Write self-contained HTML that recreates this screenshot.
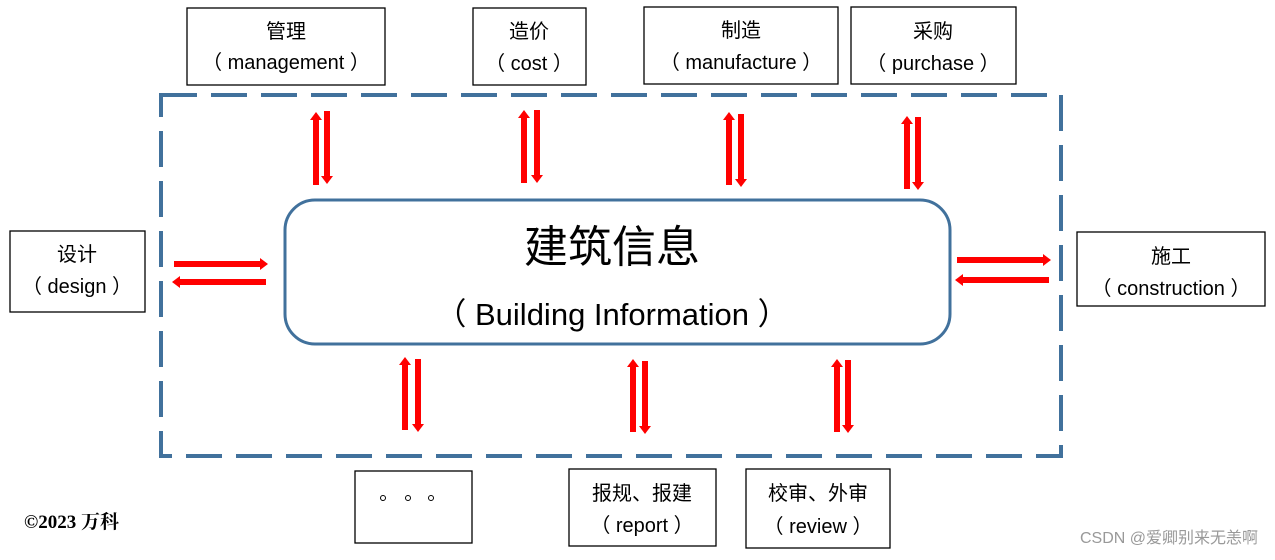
<!DOCTYPE html>
<html><head><meta charset="utf-8"><style>
body{margin:0;background:#fff}
svg text{font-family:"Liberation Sans","Noto Sans CJK SC",sans-serif;fill:#000}
</style></head><body>
<svg width="1275" height="555" viewBox="0 0 1275 555" xmlns="http://www.w3.org/2000/svg">
<defs>
<g id="up"><polygon points="-3,8 -3,73 3,73 3,8 6,8 0,0 -6,8" fill="#f00"/></g>
<g id="dn"><polygon points="-3,0 3,0 3,65 6,65 0,73 -6,65 -3,65" fill="#f00"/></g>
<g id="rt"><polygon points="0,-3 86,-3 86,-6 94,0 86,6 86,3 0,3" fill="#f00"/></g>
<g id="lt"><polygon points="94,-3 8,-3 8,-6 0,0 8,6 8,3 94,3" fill="#f00"/></g>
</defs>
<rect x="161" y="95" width="900" height="361" fill="none" stroke="#41719c" stroke-width="4" stroke-dasharray="36,14"/>
<rect x="285" y="200" width="665" height="144" rx="30" fill="#fff" stroke="#41719c" stroke-width="3"/>
<text x="612" y="262" font-size="44" text-anchor="middle">建筑信息</text>
<text x="612" y="325" font-size="31" text-anchor="middle">（ Building Information ）</text>
<g fill="#fff" stroke="#000" stroke-width="1.3">
<rect x="187" y="8" width="198" height="77"/>
<rect x="473" y="8" width="113" height="77"/>
<rect x="644" y="7" width="194" height="77"/>
<rect x="851" y="7" width="165" height="77"/>
<rect x="10" y="231" width="135" height="81"/>
<rect x="1077" y="232" width="188" height="74"/>
<rect x="355" y="471" width="117" height="72"/>
<rect x="569" y="469" width="147" height="77"/>
<rect x="746" y="469" width="144" height="79"/>
</g>
<g font-size="20" text-anchor="middle">
<text x="286" y="38">管理</text><text x="286" y="69">（ management ）</text>
<text x="529" y="38">造价</text><text x="529" y="70">（ cost ）</text>
<text x="741" y="37">制造</text><text x="741" y="69">（ manufacture ）</text>
<text x="933" y="38">采购</text><text x="933" y="70">（ purchase ）</text>
<text x="77" y="261">设计</text><text x="77" y="293">（ design ）</text>
<text x="1171" y="263">施工</text><text x="1171" y="295">（ construction ）</text>
<text x="642" y="500">报规、报建</text><text x="642" y="532">（ report ）</text>
<text x="818" y="500">校审、外审</text><text x="818" y="533">（ review ）</text>
</g>
<g fill="none" stroke="#000" stroke-width="1"><circle cx="383" cy="498" r="2.5"/><circle cx="408" cy="498" r="2.5"/><circle cx="431" cy="498" r="2.5"/></g>
<text x="24" y="528" font-size="19" font-weight="bold" style="font-family:'Liberation Serif','Noto Serif CJK SC',serif">©2023 万科</text>
<text x="1258" y="543" font-size="16" text-anchor="end" style="fill:#999">CSDN @爱卿别来无恙啊</text>
<use href="#up" x="316" y="112"/><use href="#dn" x="327" y="111"/>
<use href="#up" x="524" y="110"/><use href="#dn" x="537" y="110"/>
<use href="#up" x="729" y="112"/><use href="#dn" x="741" y="114"/>
<use href="#up" x="907" y="116"/><use href="#dn" x="918" y="117"/>
<use href="#up" x="405" y="357"/><use href="#dn" x="418" y="359"/>
<use href="#up" x="633" y="359"/><use href="#dn" x="645" y="361"/>
<use href="#up" x="837" y="359"/><use href="#dn" x="848" y="360"/>
<use href="#rt" x="174" y="264"/><use href="#lt" x="172" y="282"/>
<use href="#rt" x="957" y="260"/><use href="#lt" x="955" y="280"/>
</svg>
</body></html>
